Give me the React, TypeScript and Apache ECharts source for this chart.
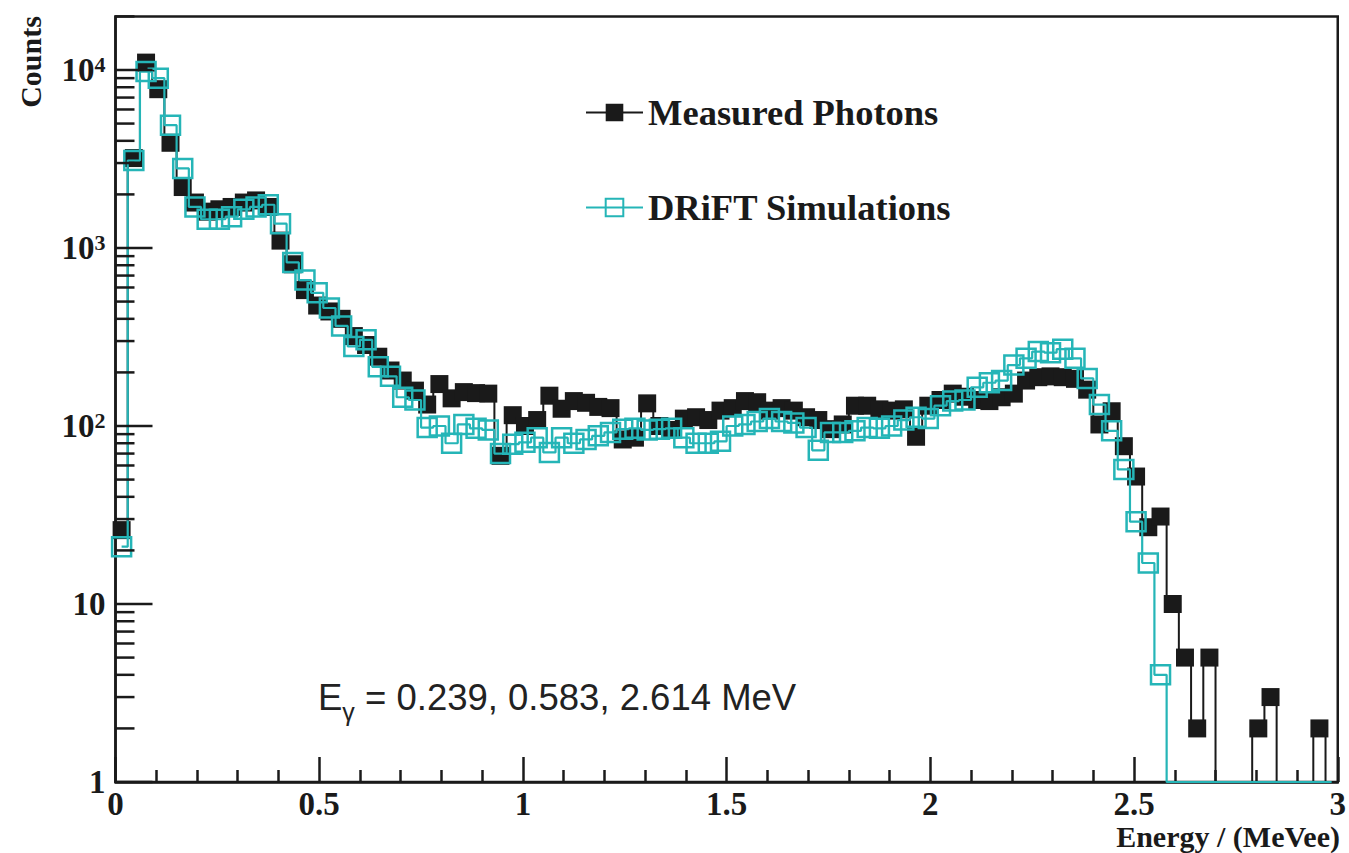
import React, { useEffect, useRef } from "react";
import * as echarts from "echarts";

// ---- data ----
const BIN_WIDTH = 0.03; // MeVee, 100 bins from 0 to 3
const binCenters: number[] = Array.from({ length: 100 }, (_, i) => +(BIN_WIDTH * (i + 0.5)).toFixed(3));

const measuredCounts: number[] = [
  26, 3200, 11000, 7800, 3900, 2200, 1800, 1600, 1650, 1700,
  1800, 1850, 1700, 1100, 810, 580, 475, 440, 400, 320,
  285, 245, 205, 180, 158, 132, 172, 143, 155, 153,
  152, 68, 115, 100, 108, 148, 125, 138, 135, 128,
  126, 84, 86, 134, 100, 95, 110, 112, 108, 122,
  126, 138, 136, 122, 126, 122, 112, 108, 96, 102,
  130, 130, 124, 122, 124, 87, 130, 140, 152, 146,
  140, 138, 145, 152, 180, 188, 190, 188, 184, 160,
  102, 121, 77, 52, 27, 31, 10, 5, 2, 5,
  0, 0, 0, 2, 3, 0, 0, 0, 2, 0,
];

const simulatedCounts: number[] = [
  21, 3100, 9800, 9000, 4900, 2800, 1700, 1450, 1450, 1500,
  1650, 1700, 1750, 1370, 830, 660, 560, 460, 365, 280,
  305, 215, 190, 145, 140, 98, 100, 80, 102, 97,
  95, 70, 79, 81, 86, 71, 86, 80, 84, 88,
  92, 96, 97, 95, 96, 97, 86, 80, 80, 82,
  100, 102, 106, 110, 106, 104, 98, 73, 92, 92,
  94, 98, 97, 100, 108, 112, 110, 130, 138, 140,
  165, 175, 180, 220, 240, 262, 258, 270, 240, 185,
  132, 94, 57, 29, 17, 4, 0, 0, 0, 0,
  0, 0, 0, 0, 0, 0, 0, 0, 0, 0,
];

const yMajorTicks: number[] = [1, 10, 100, 1000, 10000];
const yMinorTicks: number[] = [
  2, 3, 4, 5, 6, 7, 8, 9,
  20, 30, 40, 50, 60, 70, 80, 90,
  200, 300, 400, 500, 600, 700, 800, 900,
  2000, 3000, 4000, 5000, 6000, 7000, 8000, 9000,
  20000,
];
const yTickLabels: string[] = ["1", "10", "10{sup|2}", "10{sup|3}", "10{sup|4}"];

const SERIES_MEASURED = "Measured Photons";
const SERIES_SIM = "DRiFT Simulations";
const ANNOTATION = "E{sub|\u03b3} = 0.239, 0.583, 2.614 MeV";

const CYAN = "#25b5b7";
const INK = "#1a1a1a";
const SERIF = '"Liberation Serif", "Times New Roman", serif';
const SANS = '"Liberation Sans", Arial, sans-serif';

function histData(vals: number[]) {
  // empty bins sit on the axis floor (log scale), without a marker
  return vals.map((v, i) =>
    v > 0 ? [binCenters[i], v] : { value: [binCenters[i], 1], symbol: "none" }
  );
}

function tickSeries(values: number[], len: number) {
  return {
    type: "custom",
    coordinateSystem: "cartesian2d",
    silent: true,
    clip: false,
    z: 6,
    data: values.map((v) => [0, v]),
    renderItem: (_params: any, api: any) => {
      const p = api.coord([0, api.value(1)]);
      return {
        type: "line",
        shape: { x1: p[0], y1: p[1], x2: p[0] + len, y2: p[1] },
        style: { stroke: INK, lineWidth: 2.5 },
      };
    },
  };
}

export default function App() {
  const ref = useRef<HTMLDivElement>(null);

  useEffect(() => {
    if (!ref.current) return;
    const chart = echarts.init(ref.current, undefined, { renderer: "svg" });
    const legendText = {
      fontFamily: SERIF,
      fontWeight: "bold",
      fontSize: 36.5,
      color: INK,
    };
    chart.setOption({
      animation: false,
      backgroundColor: "#ffffff",
      grid: {
        left: 115.5,
        right: 6.5,
        top: 16.4,
        bottom: 71,
        show: true,
        borderColor: INK,
        borderWidth: 2.5,
        backgroundColor: "transparent",
      },
      legend: [
        {
          data: [SERIES_MEASURED],
          left: 585,
          top: 94,
          padding: 0,
          itemWidth: 57,
          itemHeight: 22,
          textStyle: legendText,
          selectedMode: false,
        },
        {
          data: [SERIES_SIM],
          left: 585,
          top: 189,
          padding: 0,
          itemWidth: 57,
          itemHeight: 22,
          textStyle: legendText,
          selectedMode: false,
        },
      ],
      xAxis: {
        type: "value",
        min: 0,
        max: 3,
        interval: 0.5,
        splitLine: { show: false },
        axisLine: { show: true, onZero: false, lineStyle: { color: INK, width: 2.5 } },
        axisTick: { show: true, inside: true, length: 25, lineStyle: { color: INK, width: 2.5 } },
        minorTick: { show: true, splitNumber: 5, length: 12, lineStyle: { color: INK, width: 2.5 } },
        minorSplitLine: { show: false },
        axisLabel: {
          margin: 7,
          fontFamily: SERIF,
          fontWeight: "bold",
          fontSize: 33,
          lineHeight: 30,
          color: INK,
          showMinLabel: true,
          showMaxLabel: true,
        },
      },
      yAxis: {
        type: "log",
        logBase: 10,
        min: 1,
        max: 20000,
        splitLine: { show: false },
        axisLine: { show: true, onZero: false, lineStyle: { color: INK, width: 2.5 } },
        axisTick: { show: false },
        axisLabel: {
          margin: 10,
          fontFamily: SERIF,
          fontWeight: "bold",
          fontSize: 33,
          color: INK,
          formatter: (v: number) => {
            const lg = Math.log10(v);
            const e = Math.round(lg);
            if (Math.abs(lg - e) > 1e-6 || e < 0 || e >= yTickLabels.length) return "";
            return yTickLabels[e];
          },
          rich: {
            sup: {
              fontFamily: SERIF,
              fontWeight: "bold",
              fontSize: 22,
              color: INK,
              verticalAlign: "top",
              lineHeight: 22,
              padding: [0, 0, 14, 0],
            },
          },
        },
      },
      series: [
        {
          type: "line",
          name: SERIES_MEASURED,
          data: histData(measuredCounts),
          step: "middle",
          symbol: "rect",
          symbolSize: 18,
          showAllSymbol: true,
          lineStyle: { color: INK, width: 2 },
          itemStyle: { color: INK },
          z: 2,
        },
        {
          type: "line",
          name: SERIES_SIM,
          data: histData(simulatedCounts),
          step: "middle",
          symbol: "rect",
          symbolSize: 19,
          showAllSymbol: true,
          lineStyle: { color: CYAN, width: 2.2 },
          itemStyle: { color: "rgba(255,255,255,0)", borderColor: CYAN, borderWidth: 2.5 },
          z: 3,
        },
        tickSeries(yMajorTicks, 37),
        tickSeries(yMinorTicks, 19),
      ],
      graphic: [
        {
          type: "text",
          x: 30,
          y: 62,
          rotation: Math.PI / 2,
          silent: true,
          style: {
            text: "Counts",
            font: `bold 30px ${SERIF}`,
            fill: INK,
            align: "center",
            verticalAlign: "middle",
          },
        },
        {
          type: "text",
          x: 1340,
          y: 836,
          silent: true,
          style: {
            text: "Energy / (MeVee)",
            font: `bold 30px ${SERIF}`,
            lineHeight: 26,
            fill: INK,
            align: "right",
            verticalAlign: "middle",
          },
        },
        {
          type: "text",
          x: 318,
          y: 697,
          silent: true,
          style: {
            text: ANNOTATION,
            font: `36.5px ${SANS}`,
            fill: "#222",
            align: "left",
            verticalAlign: "middle",
            rich: {
              sub: {
                font: `25px ${SANS}`,
                fill: "#222",
                verticalAlign: "bottom",
                lineHeight: 54,
              },
            },
          },
        },
      ],
    });
    return () => chart.dispose();
  }, []);

  return (
    <div
      ref={ref}
      style={{ position: "fixed", left: 0, top: 0, width: 1349, height: 853, background: "#fff" }}
    />
  );
}
